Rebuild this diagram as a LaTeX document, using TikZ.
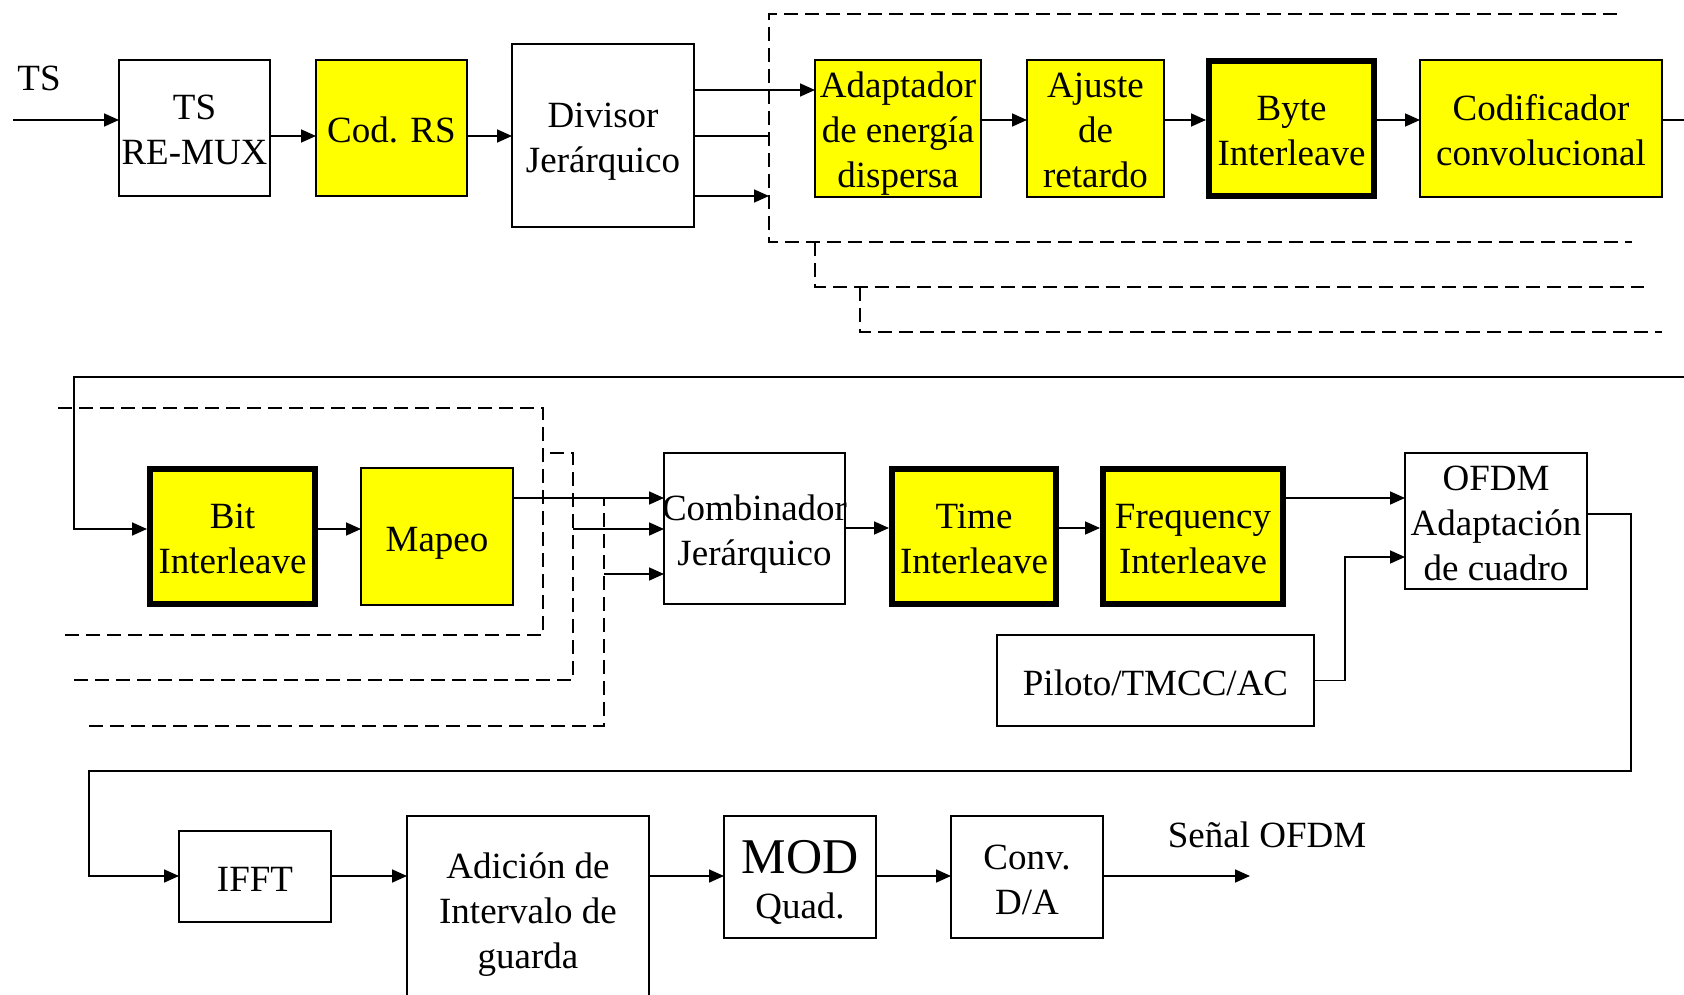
\documentclass[tikz,border=0pt]{standalone}
\usepackage{fontspec}
\setmainfont{Liberation Serif}
\usetikzlibrary{arrows.meta}
\definecolor{boxyellow}{RGB}{255,255,0}
\begin{document}
\begin{tikzpicture}[x=1pt,y=-1pt,
  every node/.style={font=\fontsize{37}{45}\selectfont, align=center, inner sep=0pt, outer sep=0pt},
  blk/.style={draw, line width=1.6pt, rectangle, text depth=8pt},
  yel/.style={blk, fill=boxyellow},
  thk/.style={blk, fill=boxyellow, line width=6pt, outer sep=3pt},
  one/.style={text height=37pt},
  two/.style={text height=82pt},
  three/.style={text height=127pt},
  wire/.style={line width=1.7pt},
  arr/.style={wire, -{Triangle[length=15pt,width=13pt]}},
  dsh/.style={line width=1.6pt, dash pattern=on 14pt off 7pt},
]
\useasboundingbox (0,0) rectangle (1684,995);

% ---- first row: transport stream processing
\node[blk, two, minimum width=151pt, minimum height=136pt] (remux) at (194.5,128) {TS\\RE-MUX};
\node[yel, one, minimum width=151pt, minimum height=136pt] (rs) at (391.5,128) {Cod. RS};
\node[blk, two, minimum width=182pt, minimum height=183pt] (div) at (603,135.5) {Divisor\\Jerárquico};
\node[yel, three, minimum width=166pt, minimum height=137pt] (adapt) at (898,128.5) {Adaptador\\de energía\\dispersa};
\node[yel, three, minimum width=137pt, minimum height=137pt] (ajuste) at (1095.5,128.5) {Ajuste\\de\\retardo};
\node[thk, two, minimum width=165pt, minimum height=135pt] (byte) at (1291.5,128.5) {Byte\\Interleave};
\node[yel, two, minimum width=242pt, minimum height=137pt] (codif) at (1541,128.5) {Codificador\\convolucional};

% ---- second row: bit processing and frame building
\node[thk, two, minimum width=165pt, minimum height=135pt] (bit) at (232.5,536.5) {Bit\\Interleave};
\node[yel, one, minimum width=152pt, minimum height=137pt] (mapeo) at (437,536.5) {Mapeo};
\node[blk, two, minimum width=181pt, minimum height=151pt] (comb) at (754.5,528.5) {\makebox[0pt]{Combinador}\\Jerárquico};
\node[thk, two, minimum width=164pt, minimum height=135pt] (time) at (974,536.5) {Time\\Interleave};
\node[thk, two, minimum width=180pt, minimum height=135pt] (freq) at (1193,536.5) {Frequency\\Interleave};
\node[blk, three, minimum width=182pt, minimum height=136pt] (ofdm) at (1496,521) {OFDM\\Adaptación\\de cuadro};
\node[blk, one, minimum width=317pt, minimum height=91pt] (pil) at (1155.5,680.5) {Piloto/TMCC/AC};

% ---- third row: OFDM output chain
\node[blk, one, minimum width=152pt, minimum height=91pt] (ifft) at (255,876.5) {IFFT};
\node[blk, three, minimum width=242pt, minimum height=186pt] (adic) at (528,909) {Adición de\\Intervalo de\\guarda};
\node[blk, text height=90pt, minimum width=152pt, minimum height=122pt] (mod) at (800,877) {{\fontsize{50}{50}\selectfont MOD}\\Quad.};
\node[blk, two, minimum width=152pt, minimum height=122pt] (conv) at (1027,877) {Conv.\\D/A};

% ---- labels
\node (tslbl) at (39,78) {TS};
\node (senal) at (1267,835) {Señal OFDM};

% ---- free ends
\coordinate (tsin) at (13,120);
\coordinate (d2end) at (769,136);
\coordinate (d3end) at (769,196);
\coordinate (codout) at (1684,120);
\coordinate (fbR) at (1684,377);
\coordinate (fbL) at (74,377);
\coordinate (b2) at (573,529);
\coordinate (b3) at (604,574);
\coordinate (sout) at (1250,876);

% ---- dashed layer outlines (hierarchical layers)
\draw[dsh] (1617,14) -- (769,14) -- (769,242) -- (1632,242);
\draw[dsh] (815,242) -- (815,287) -- (1644,287);
\draw[dsh] (860,287) -- (860,332) -- (1662,332);
\draw[dsh] (58,408) -- (543,408) -- (543,635) -- (58,635);
\draw[dsh] (74,680) -- (573,680) -- (573,453) -- (543,453);
\draw[dsh] (89,726) -- (604,726) -- (604,498);

% ---- connectors, first row
\draw[arr] (tsin) -- (tsin -| remux.west);
\draw[arr] (remux.east |- 0,136) -- (rs.west |- 0,136);
\draw[arr] (rs.east |- 0,136) -- (div.west |- 0,136);
\draw[arr] (div.east |- 0,90) -- (adapt.west |- 0,90);
\draw[wire] (div.east |- 0,136) -- (d2end);
\draw[arr] (div.east |- 0,196) -- (d3end);
\draw[arr] (adapt.east |- 0,120) -- (ajuste.west |- 0,120);
\draw[arr] (ajuste.east |- 0,120) -- (byte.west |- 0,120);
\draw[arr] (byte.east |- 0,120) -- (codif.west |- 0,120);
\draw[wire] (codif.east |- 0,120) -- (codout);

% ---- connectors, second row
\draw[arr] (fbR) -- (fbL) -- (fbL |- 0,529) -- (bit.west |- 0,529);
\draw[arr] (bit.east |- 0,529) -- (mapeo.west |- 0,529);
\draw[arr] (mapeo.east |- 0,498) -- (comb.west |- 0,498);
\draw[arr] (b2) -- (b2 -| comb.west);
\draw[arr] (b3) -- (b3 -| comb.west);
\draw[arr] (comb.east |- 0,528) -- (time.west |- 0,528);
\draw[arr] (time.east |- 0,528) -- (freq.west |- 0,528);
\draw[arr] (freq.east |- 0,498) -- (ofdm.west |- 0,498);
\draw[arr] (pil.east) -- (1345,680.5) -- (1345,557) -- (ofdm.west |- 0,557);

% ---- connectors, third row
\draw[arr] (ofdm.east |- 0,514) -- (1631,514) -- (1631,771) -- (89,771) -- (89,876) -- (ifft.west |- 0,876);
\draw[arr] (ifft.east |- 0,876) -- (adic.west |- 0,876);
\draw[arr] (adic.east |- 0,876) -- (mod.west |- 0,876);
\draw[arr] (mod.east |- 0,876) -- (conv.west |- 0,876);
\draw[arr] (conv.east |- 0,876) -- (sout);
\end{tikzpicture}
\end{document}
